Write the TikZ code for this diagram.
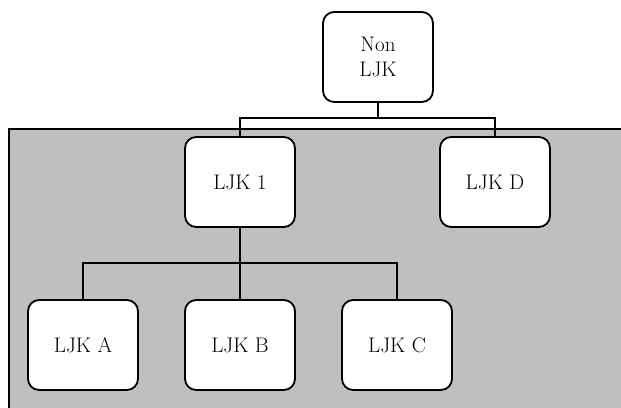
\documentclass[tikz,border=0pt]{standalone}
\usepackage{tikz}
\usetikzlibrary{positioning}
\usepackage{xcolor}
\definecolor{PanelGrau}{HTML}{BFBFBF}
\definecolor{LinieSchwarz}{HTML}{000000}

\begin{document}
\begin{tikzpicture}[
            x=0.025cm, y=-0.025cm,
            unit/.style={draw=LinieSchwarz, line width=1.3pt, rounded corners=8pt, minimum width=2.75cm, minimum height=2.25cm, align=center, font=\fontsize{15}{17.5}\selectfont, fill=white},
            link/.style={line width=1.3pt, LinieSchwarz}
        ]
            \useasboundingbox (0,0) rectangle (621,408);
            \filldraw[fill=PanelGrau, draw=LinieSchwarz, line width=1.3pt] (9,129) rectangle (640,430);

            \node[unit] (non) at (378,57) {Non\\LJK};
            \node[unit] (ljk1) at (240,182) {LJK 1};
            \node[unit] (ljkd) at (495,182) {LJK D};
            \node[unit] (ljka) at (83,345) {LJK A};
            \node[unit] (ljkb) at (240,345) {LJK B};
            \node[unit] (ljkc) at (397,345) {LJK C};

            \coordinate (bartop) at (378,118);
            \coordinate (barlow) at (240,263);

            \draw[link] (non.south) -- (bartop);
            \draw[link] (bartop) -| (ljk1.north);
            \draw[link] (bartop) -| (ljkd.north);
            \draw[link] (ljk1.south) -- (ljkb.north);
            \draw[link] (barlow) -| (ljka.north);
            \draw[link] (barlow) -| (ljkc.north);
        \end{tikzpicture}
\end{document}
